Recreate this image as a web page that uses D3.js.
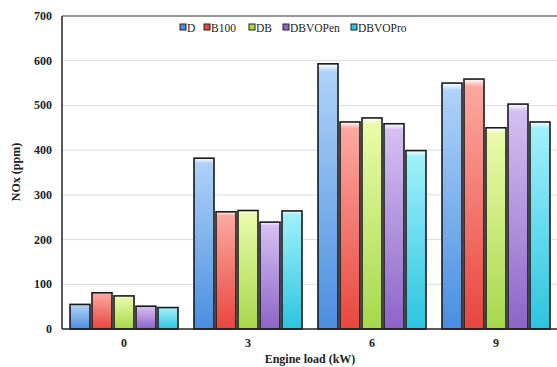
<!DOCTYPE html>
<html>
<head>
<meta charset="utf-8">
<script src="https://cdn.jsdelivr.net/npm/d3@7"></script>
<style>
  body { margin: 0; background: #fff; }
  svg { display: block; font-family: "Liberation Serif", "DejaVu Serif", serif; }
</style>
</head>
<body>
<svg id="chart"></svg>
<script>
const width = 557;
const height = 367;

// Data
const loads = ["0", "3", "6", "9"];
const series = ["D", "B100", "DB", "DBVOPen", "DBVOPro"];
const D = [55, 382, 593, 550];
const B100 = [81, 262, 463, 559];
const DB = [74, 265, 472, 450];
const DBVOPen = [51, 239, 459, 503];
const DBVOPro = [48, 264, 399, 463];
const yTicks = [0, 100, 200, 300, 400, 500, 600, 700];

const values = [D, B100, DB, DBVOPen, DBVOPro];

// light top / dark bottom for each series
const colors = [
  ["#aed2f8", "#4a8ee0"],
  ["#fba8a0", "#e8463e"],
  ["#eafaaa", "#a6d84a"],
  ["#d4c0f2", "#8c64c8"],
  ["#a0f0fa", "#2cc4e0"],
];

const margin = { top: 16, left: 62 };

const svg = d3.select("#chart").attr("width", width).attr("height", height);

const x = d3.scaleBand().domain(loads).range([margin.left, 558]).padding(0);
const xi = d3.scaleBand().domain(series).range([8, 124 - 8]).paddingInner(0.09);
const y = d3.scaleLinear().domain([0, 700]).range([329, margin.top]);

// Gradients
const defs = svg.append("defs");
series.forEach((s, i) => {
  const g = defs.append("linearGradient")
    .attr("id", "grad" + i)
    .attr("x1", 0).attr("y1", 0).attr("x2", 0).attr("y2", 1);
  g.append("stop").attr("offset", "0%").attr("stop-color", "#ffffff");
  g.append("stop").attr("offset", "3%").attr("stop-color", colors[i][0]);
  g.append("stop").attr("offset", "100%").attr("stop-color", colors[i][1]);
});

// Gridlines
svg.append("g")
  .selectAll("line")
  .data(yTicks.slice(1))
  .join("line")
  .attr("x1", margin.left).attr("x2", width)
  .attr("y1", d => y(d)).attr("y2", d => y(d))
  .attr("stroke", "#dcdcdc")
  .attr("stroke-width", 1);

// Bars
const groups = svg.append("g")
  .selectAll("g")
  .data(loads)
  .join("g")
  .attr("transform", d => `translate(${x(d)},0)`);

groups.selectAll("rect")
  .data((d, gi) => series.map((s, si) => ({ s, si, v: values[si][gi] })))
  .join("rect")
  .attr("x", d => xi(d.s))
  .attr("width", xi.bandwidth())
  .attr("y", d => y(d.v))
  .attr("height", d => y(0) - y(d.v))
  .attr("fill", d => `url(#grad${d.si})`)
  .attr("stroke", "#1a1a1a")
  .attr("stroke-width", 1.6);

// Axes
svg.append("line")
  .attr("x1", margin.left).attr("x2", margin.left)
  .attr("y1", margin.top).attr("y2", y(0))
  .attr("stroke", "#222").attr("stroke-width", 1.5);
svg.append("line")
  .attr("x1", margin.left).attr("x2", width)
  .attr("y1", margin.top).attr("y2", margin.top)
  .attr("stroke", "#444").attr("stroke-width", 1.2);
svg.append("line")
  .attr("x1", margin.left).attr("x2", width)
  .attr("y1", y(0)).attr("y2", y(0))
  .attr("stroke", "#222").attr("stroke-width", 1.5);

// Y tick labels
svg.append("g")
  .selectAll("text")
  .data(yTicks)
  .join("text")
  .attr("x", 52)
  .attr("y", d => y(d) + 4)
  .attr("text-anchor", "end")
  .attr("font-size", 12)
  .attr("font-weight", "bold")
  .attr("fill", "#222")
  .text(d => d);

// X tick labels
svg.append("g")
  .selectAll("text")
  .data(loads)
  .join("text")
  .attr("x", d => x(d) + x.bandwidth() / 2)
  .attr("y", 347)
  .attr("text-anchor", "middle")
  .attr("font-size", 12)
  .attr("font-weight", "bold")
  .attr("fill", "#222")
  .text(d => d);

// Axis titles
svg.append("text")
  .attr("x", 310).attr("y", 363)
  .attr("text-anchor", "middle")
  .attr("font-size", 12)
  .attr("font-weight", "bold")
  .attr("fill", "#222")
  .text("Engine load (kW)");

svg.append("text")
  .attr("transform", "translate(20,172) rotate(-90)")
  .attr("text-anchor", "middle")
  .attr("font-size", 12)
  .attr("font-weight", "bold")
  .attr("fill", "#222")
  .text("NOx (ppm)");

// Legend
const legendX = [180, 204, 249, 283, 351];
const legend = svg.append("g")
  .selectAll("g")
  .data(series)
  .join("g")
  .attr("transform", (d, i) => `translate(${legendX[i]},30)`);
legend.append("rect")
  .attr("x", 0).attr("y", -6)
  .attr("width", 6).attr("height", 6)
  .attr("fill", (d, i) => colors[i][1])
  .attr("stroke", "#222")
  .attr("stroke-width", 1);
legend.append("text")
  .attr("x", 7).attr("y", 1.5)
  .attr("font-size", 11.5)
  .attr("fill", "#222")
  .text(d => d);
</script>
</body>
</html>
